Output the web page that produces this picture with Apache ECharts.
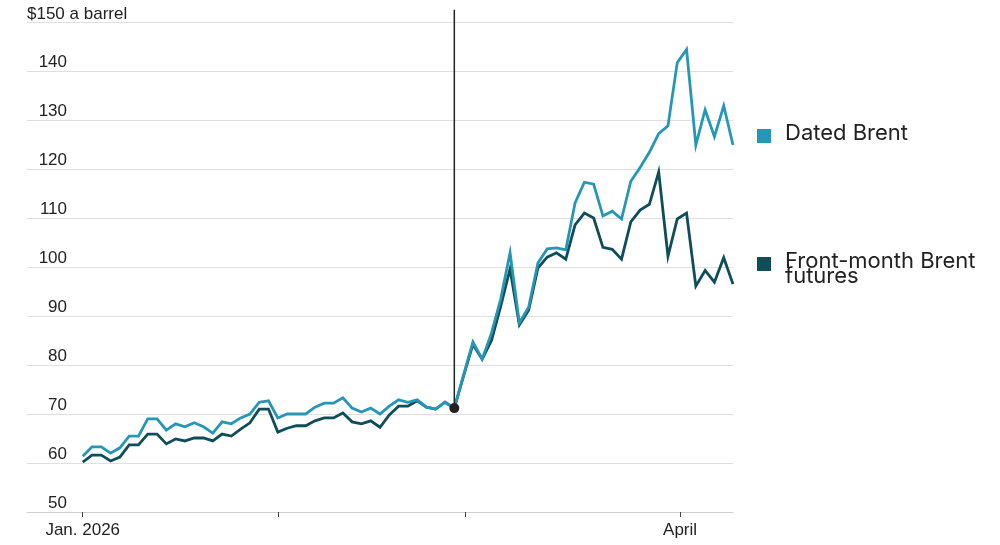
<!DOCTYPE html>
<html>
<head>
<meta charset="utf-8">
<script src="https://cdn.jsdelivr.net/npm/echarts@6/dist/echarts.min.js"></script>
<style>
  html, body { margin: 0; padding: 0; background: #ffffff; }
  #chart { width: 1000px; height: 545px; }
</style>
</head>
<body>
<div id="chart"></div>
<script>
// Series values, one per trading day (index 0 = first trading day of Jan. 2026)
const datedBrent = [
  61.4, 63.3, 63.3, 62.0, 63.1, 65.5, 65.5, 69.0, 69.0, 66.7,
  68.0, 67.4, 68.2, 67.4, 66.1, 68.4, 68.0, 69.2, 70.0, 72.4,
  72.7, 69.2, 70.0, 70.0, 70.0, 71.4, 72.2, 72.2, 73.3, 71.2,
  70.4, 71.2, 70.0, 71.6, 72.9, 72.4, 72.9, 71.4, 71.0, 72.4,
  71.2, 78.0, 84.7, 81.2, 86.5, 93.5, 102.9, 88.6, 91.8, 100.8,
  103.7, 103.9, 103.5, 113.1, 117.3, 116.9, 110.4, 111.4, 109.8, 117.5,
  120.3, 123.4, 127.2, 128.8, 141.7, 144.4, 124.9, 132.1, 126.6, 132.9,
  124.9
];
const frontMonthBrent = [
  60.2, 61.6, 61.6, 60.4, 61.2, 63.7, 63.7, 65.9, 65.9, 63.9,
  64.9, 64.5, 65.1, 65.1, 64.5, 65.9, 65.5, 66.9, 68.2, 71.0,
  71.0, 66.3, 67.1, 67.6, 67.6, 68.6, 69.2, 69.2, 70.2, 68.4,
  68.0, 68.6, 67.3, 69.8, 71.6, 71.6, 72.7, 71.4, 71.0, 72.4,
  71.2, 77.8, 84.2, 81.2, 85.0, 92.0, 99.6, 88.2, 91.2, 99.8,
  102.0, 102.9, 101.6, 108.6, 111.0, 110.0, 104.0, 103.6, 101.6, 109.2,
  111.6, 112.8, 119.4, 102.2, 109.8, 111.0, 96.1, 99.3, 96.9, 101.9,
  96.5
];
// x-axis month ticks (trading-day index) and their labels
const monthTickIndex = [0, 21, 41.2, 64.3];
const monthTickLabels = ['Jan. 2026', '', '', 'April'];
// y-axis
const yTicks = [50, 60, 70, 80, 90, 100, 110, 120, 130, 140, 150];
const yTopLabel = '$150 a barrel';
// marked event (vertical line + dot)
const eventIndex = 40;
const eventValue = 71.2;
const eventLineTop = 152.5;
const seriesNames = ['Dated Brent', 'Front-month Brent\nfutures'];

const COL_DATED = '#2597b5';
const COL_FRONT = '#0f4d58';
const AXIS_FONT = "'Liberation Sans Narrow', 'Liberation Sans', sans-serif";
const LEGEND_FONT = "Inter, 'Noto Sans', sans-serif";

const chart = echarts.init(document.getElementById('chart'), null, { renderer: 'canvas' });

const toPairs = arr => arr.map((v, i) => [i, v]);

chart.setOption({
  animation: false,
  backgroundColor: '#ffffff',
  grid: { left: 27, right: 267, top: 22, bottom: 33, containLabel: false },
  xAxis: {
    type: 'value',
    min: -6,
    max: 70,
    splitLine: { show: false },
    axisLine: { show: true, lineStyle: { color: '#cfcfcf', width: 1 } },
    axisTick: { show: true, customValues: monthTickIndex, length: 5, lineStyle: { color: '#444', width: 1 } },
    axisLabel: {
      customValues: [monthTickIndex[0], monthTickIndex[3]],
      formatter: v => {
        const k = monthTickIndex.indexOf(v);
        return k >= 0 ? monthTickLabels[k] : '';
      },
      margin: 10,
      color: '#222',
      fontSize: 17,
      fontFamily: AXIS_FONT
    }
  },
  yAxis: {
    type: 'value',
    min: yTicks[0],
    max: yTicks[yTicks.length - 1],
    interval: 10,
    axisLine: { show: false },
    axisTick: { show: false },
    splitLine: { show: true, lineStyle: { color: '#e0e0e0', width: 1 } },
    axisLabel: {
      inside: true,
      margin: 40,
      align: 'right',
      verticalAlign: 'bottom',
      color: '#222',
      fontSize: 17,
      fontFamily: AXIS_FONT,
      formatter: v => (v === 150 ? '' : String(v))
    }
  },
  series: [
    {
      name: seriesNames[0],
      type: 'line',
      data: toPairs(datedBrent),
      showSymbol: false,
      symbol: 'none',
      lineStyle: { color: COL_DATED, width: 2.8, join: 'miter' },
      z: 3
    },
    {
      name: seriesNames[1],
      type: 'line',
      data: toPairs(frontMonthBrent),
      showSymbol: false,
      symbol: 'none',
      lineStyle: { color: COL_FRONT, width: 2.8, join: 'miter' },
      z: 2
    },
    {
      type: 'custom',
      clip: false,
      silent: true,
      z: 5,
      data: [[eventIndex, eventValue, eventLineTop]],
      renderItem: (params, api) => {
        const p = api.coord([api.value(0), api.value(1)]);
        const top = api.coord([api.value(0), api.value(2)]);
        return {
          type: 'group',
          children: [
            {
              type: 'line',
              shape: { x1: p[0], y1: p[1], x2: top[0], y2: top[1] },
              style: { stroke: '#222', lineWidth: 1.5 }
            },
            {
              type: 'circle',
              shape: { cx: p[0], cy: p[1], r: 5 },
              style: { fill: '#222' }
            }
          ]
        };
      }
    }
  ],
  graphic: [
    {
      type: 'text', left: 27, top: 6,
      style: { text: yTopLabel, fill: '#222', font: `17px ${AXIS_FONT}` }
    },
    { type: 'rect', left: 757, top: 129, shape: { width: 14, height: 14 }, style: { fill: COL_DATED } },
    {
      type: 'text', left: 785, top: 122,
      style: { text: seriesNames[0], fill: '#222', font: `22px ${LEGEND_FONT}` }
    },
    { type: 'rect', left: 757, top: 257, shape: { width: 14, height: 14 }, style: { fill: COL_FRONT } },
    {
      type: 'text', left: 785, top: 250,
      style: { text: seriesNames[1], fill: '#222', font: `22px ${LEGEND_FONT}`, lineHeight: 15 }
    }
  ]
});
</script>
</body>
</html>
